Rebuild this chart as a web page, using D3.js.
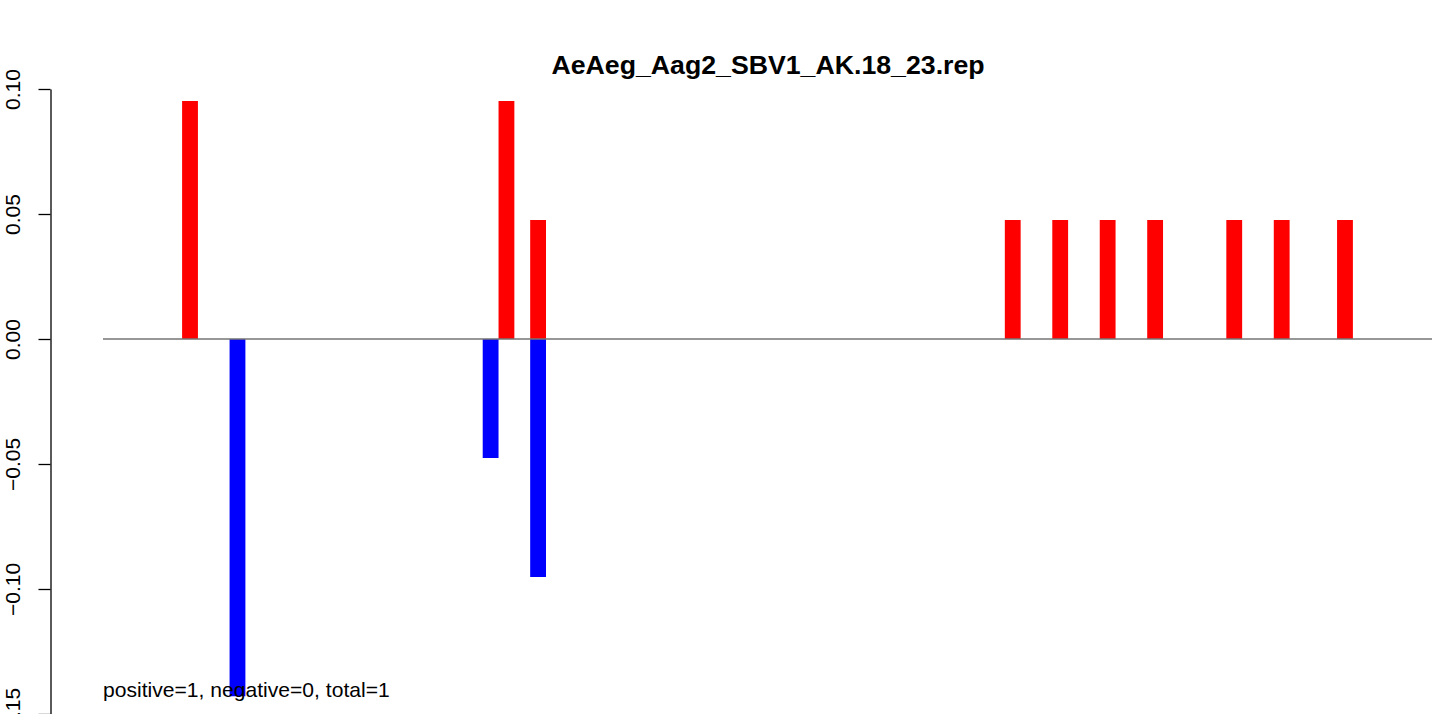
<!DOCTYPE html>
<html>
<head>
<meta charset="utf-8">
<script src="https://cdn.jsdelivr.net/npm/d3@7"></script>
<style>
  html, body { margin: 0; padding: 0; background: #fff; }
  svg { display: block; font-family: "Liberation Sans", Arial, Helvetica, sans-serif; }
</style>
</head>
<body>
<svg id="chart" width="1439" height="714"></svg>
<script>
// ---- data ----
const title = "AeAeg_Aag2_SBV1_AK.18_23.rep";
const note = "positive=1, negative=0, total=1";
const seqLength = 84;
const positivePositions = [6, 26, 28, 58, 61, 64, 67, 72, 75, 79];
const positiveValues    = [0.0952, 0.0952, 0.0476, 0.0476, 0.0476, 0.0476, 0.0476, 0.0476, 0.0476, 0.0476];
const negativePositions = [9, 25, 28];
const negativeValues    = [-0.1429, -0.0476, -0.0952];
const yTicks = [0.10, 0.05, 0.00, -0.05, -0.10, -0.15];
const yTickLabels = ["0.10", "0.05", "0.00", "\u22120.05", "\u22120.10", "\u22120.15"];

// ---- layout ----
const svg = d3.select("#chart");
const x = d3.scaleLinear().domain([0, seqLength]).range([103, 1432]);
const y = d3.scaleLinear().domain([-0.15, 0.10]).range([714, 89]);

const pos = positivePositions.map((p, i) => ({p, v: positiveValues[i]}));
const neg = negativePositions.map((p, i) => ({p, v: negativeValues[i]}));

svg.append("g").selectAll("rect").data(pos).join("rect")
  .attr("x", d => x(d.p - 1))
  .attr("width", d => x(d.p) - x(d.p - 1))
  .attr("y", d => y(d.v))
  .attr("height", d => y(0) - y(d.v))
  .attr("fill", "#ff0000");

svg.append("g").selectAll("rect").data(neg).join("rect")
  .attr("x", d => x(d.p - 1))
  .attr("width", d => x(d.p) - x(d.p - 1))
  .attr("y", y(0))
  .attr("height", d => y(d.v) - y(0))
  .attr("fill", "#0000ff");

// zero line
svg.append("line")
  .attr("x1", x(0)).attr("x2", x(seqLength))
  .attr("y1", y(0)).attr("y2", y(0))
  .attr("stroke", "#757575").attr("stroke-width", 1.5);

// y axis
const yAxis = d3.axisLeft(y)
  .tickValues(yTicks)
  .tickFormat((d, i) => yTickLabels[i])
  .tickSize(12)
  .tickSizeOuter(0);

const gy = svg.append("g").attr("transform", "translate(50.5,0)").call(yAxis);
gy.select(".domain").attr("stroke", "#000").attr("stroke-width", 1.3);
gy.selectAll(".tick line").attr("stroke", "#000").attr("stroke-width", 1.3);
gy.selectAll(".tick text")
  .attr("transform", "rotate(-90)")
  .attr("x", 0)
  .attr("y", -31)
  .attr("dy", 0)
  .attr("text-anchor", "middle")
  .attr("fill", "#000")
  .style("font-size", "21px")
  .style("font-family", "'Liberation Sans', Arial, sans-serif");

// title
svg.append("text")
  .attr("x", 768).attr("y", 74)
  .attr("text-anchor", "middle")
  .style("font-weight", "bold")
  .style("font-size", "26.7px")
  .text(title);

// note
svg.append("text")
  .attr("x", 103).attr("y", 697)
  .style("font-size", "21.1px")
  .text(note);
</script>
</body>
</html>
